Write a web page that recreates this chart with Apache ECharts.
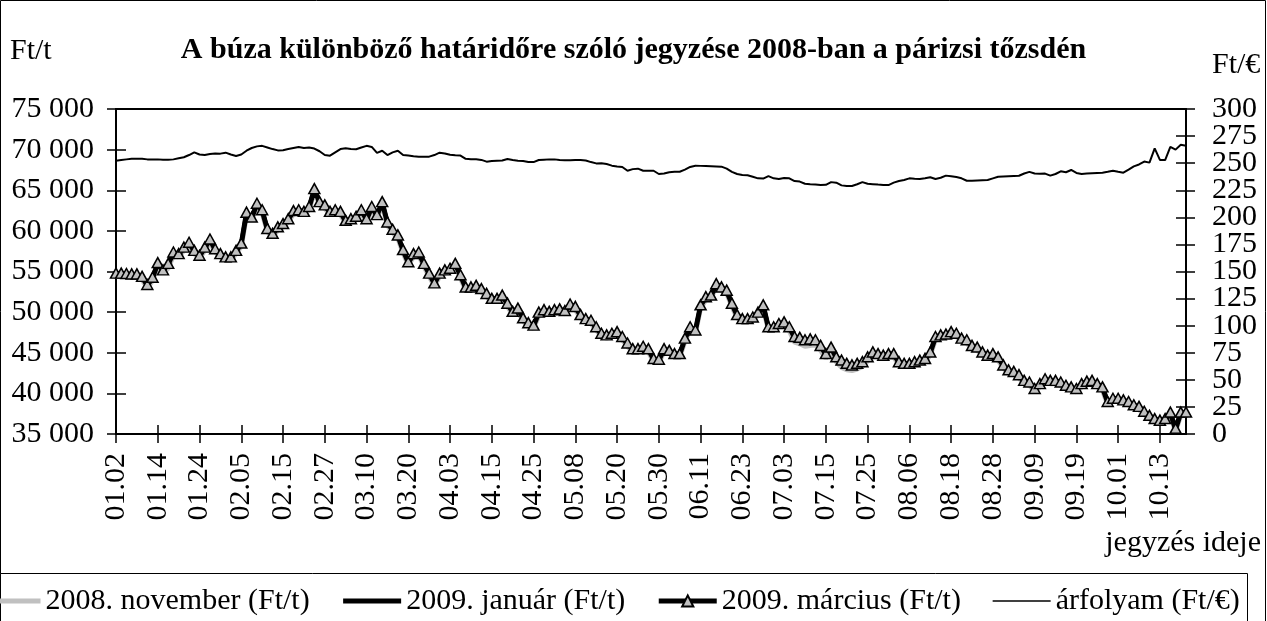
<!DOCTYPE html>
<html>
<head>
<meta charset="utf-8">
<script src="https://cdn.jsdelivr.net/npm/echarts@6/dist/echarts.min.js"></script>
<style>
html, body { margin: 0; padding: 0; background: #fff; }
#chart { width: 1267px; height: 621px; }
</style>
</head>
<body>
<div id="chart"></div>
<script>
// kereskedési napok (hó.nap)
var dates = [
  '01.02','01.03','01.04','01.07','01.08','01.09','01.10','01.11','01.14','01.15','01.16','01.17','01.18','01.21','01.22','01.23','01.24','01.25','01.28','01.29','01.30','01.31',
  '02.01','02.04','02.05','02.06','02.07','02.08','02.11','02.12','02.13','02.14','02.15','02.18','02.19','02.20','02.21','02.22','02.25','02.26','02.27','02.28','02.29',
  '03.03','03.04','03.05','03.06','03.07','03.10','03.11','03.12','03.13','03.14','03.17','03.18','03.19','03.20','03.25','03.26','03.27','03.28','03.31',
  '04.01','04.02','04.03','04.04','04.07','04.08','04.09','04.10','04.11','04.14','04.15','04.16','04.17','04.18','04.21','04.22','04.23','04.24','04.25','04.28','04.29','04.30',
  '05.02','05.05','05.06','05.07','05.08','05.09','05.12','05.13','05.14','05.15','05.16','05.19','05.20','05.21','05.22','05.23','05.26','05.27','05.28','05.29','05.30',
  '06.02','06.03','06.04','06.05','06.06','06.09','06.10','06.11','06.12','06.13','06.16','06.17','06.18','06.19','06.20','06.23','06.24','06.25','06.26','06.27','06.30',
  '07.01','07.02','07.03','07.04','07.07','07.08','07.09','07.10','07.11','07.14','07.15','07.16','07.17','07.18','07.21','07.22','07.23','07.24','07.25','07.28','07.29','07.30','07.31',
  '08.01','08.04','08.05','08.06','08.07','08.08','08.11','08.12','08.13','08.14','08.15','08.18','08.19','08.20','08.21','08.22','08.25','08.26','08.27','08.28','08.29',
  '09.01','09.02','09.03','09.04','09.05','09.08','09.09','09.10','09.11','09.12','09.15','09.16','09.17','09.18','09.19','09.22','09.23','09.24','09.25','09.26','09.29','09.30',
  '10.01','10.02','10.03','10.06','10.07','10.08','10.09','10.10','10.13','10.14','10.15','10.16','10.17','10.20'
];

// 2008. november (Ft/t)
var nov08 = [
  54400,54400,54350,54300,54300,54000,53000,53900,55600,54800,
  55400,57000,56800,57600,58200,57200,56600,57600,58600,57400,
  56800,56400,56400,57200,58100,61900,61300,63000,62200,59900,
  59300,60100,60500,61100,62100,62200,62000,62600,64800,63200,
  62800,62000,62200,62000,60900,61100,61400,62200,61100,62600,
  61600,63200,60700,59800,59100,57300,55800,56800,57000,55600,
  54400,53200,54400,54800,55000,55600,54200,52700,52700,52900,
  52500,51900,51300,51300,51700,50700,49700,50100,48900,48300,
  48000,49600,49900,49700,49900,50000,49800,50600,50300,49300,
  48800,48600,47800,47000,46800,47000,47200,46600,45800,45100,
  45100,45400,45100,43900,43800,45100,44900,44500,44500,46400,
  47800,47400,50500,51500,51700,53100,52700,52300,50700,49300,
  48800,48800,49000,49600,50500,47800,47800,48200,48400,47700,
  46300,46100,45800,45900,46000,45300,44300,45100,43900,43200,
  42900,42800,43000,43300,44000,44700,44500,44300,44500,44500,
  43500,43300,43300,43500,43700,43900,44700,46600,46800,46900,
  47200,47000,46400,46200,45500,45300,44700,44300,44500,44100,
  43100,42500,42300,41900,41200,41000,40200,40800,41400,41200,
  41200,41000,40600,40400,40200,40800,41100,41200,40800,40400,
  38600,39000,39000,38800,38600,38200,38000,37400,36900,36500,
  36300,36500,37300,35300,37300,37300
];

// 2009. január (Ft/t)
var jan09 = [
  54700,54700,54650,54600,54600,54300,53300,54200,56000,55100,
  55900,57300,57100,57900,58500,57500,56900,57900,58900,57700,
  57100,56700,56700,57500,58400,62200,61600,63300,62500,60200,
  59600,60400,60800,61400,62400,62500,62300,62900,65100,63500,
  63100,62300,62500,62300,61200,61400,61700,62500,61400,62900,
  61900,63500,61000,60100,59400,57600,56100,57100,57300,55900,
  54700,53500,54700,55100,55300,55900,54500,53000,53000,53200,
  52800,52200,51600,51600,52000,51000,50000,50400,49200,48600,
  48300,49900,50200,50000,50200,50300,50100,50900,50600,49600,
  49100,48900,48100,47300,47100,47300,47500,46900,46100,45400,
  45400,45700,45400,44200,44100,45400,45200,44800,44800,46700,
  48100,47700,50800,51800,52000,53400,53000,52600,51000,49600,
  49100,49100,49300,49900,50800,48100,48100,48500,48700,48100,
  46900,46800,46500,46600,46500,45800,44800,45600,44400,44000,
  43600,43400,43600,43800,44400,45000,44800,44600,44800,44800,
  43800,43600,43600,43800,44000,44200,45000,46900,47100,47200,
  47500,47300,46700,46500,45800,45600,45000,44600,44800,44400,
  43400,42800,42600,42200,41500,41300,40500,41100,41700,41500,
  41500,41300,40900,40700,40500,41100,41400,41500,41100,40700,
  38900,39300,39300,39100,38900,38500,38300,37700,37200,36800,
  36600,36800,37600,35600,37600,37600
];

// 2009. március (Ft/t)
var mar09 = [
  54800,54800,54750,54700,54700,54400,53400,54300,56100,55200,
  56000,57400,57200,58000,58600,57600,57000,58000,59000,57800,
  57200,56800,56800,57600,58500,62300,61700,63400,62600,60300,
  59700,60500,60900,61500,62500,62600,62400,63000,65200,63600,
  63200,62400,62600,62400,61300,61500,61800,62600,61500,63000,
  62000,63600,61100,60200,59500,57700,56200,57200,57400,56000,
  54800,53600,54800,55200,55400,56000,54600,53100,53100,53300,
  52900,52300,51700,51700,52100,51100,50100,50500,49300,48700,
  48400,50000,50300,50100,50300,50400,50200,51000,50700,49700,
  49200,49000,48200,47400,47200,47400,47600,47000,46200,45500,
  45500,45800,45500,44300,44200,45500,45300,44900,44900,46800,
  48200,47800,50900,51900,52100,53500,53100,52700,51100,49700,
  49200,49200,49400,50000,50900,48200,48200,48600,48800,48200,
  47000,46900,46600,46700,46600,45900,44900,45700,44500,44100,
  43700,43500,43700,43900,44500,45100,44900,44700,44900,44900,
  43900,43700,43700,43900,44100,44300,45100,47000,47200,47300,
  47600,47400,46800,46600,45900,45700,45100,44700,44900,44500,
  43500,42900,42700,42300,41600,41400,40600,41200,41800,41600,
  41600,41400,41000,40800,40600,41200,41500,41600,41200,40800,
  39000,39400,39400,39200,39000,38600,38400,37800,37300,36900,
  36700,36900,37700,35700,37700,37700
];

// árfolyam (Ft/€)
var eurHuf = [
  252.3,253,253.5,254,254,254,253.5,253.5,253.5,253.2,
  253.2,253.5,254.5,255.5,257.5,260,258,257.5,258.5,259,
  258.8,259.7,258,256.6,258,261.5,264,265.5,266,264.5,
  263,261.8,262,263,264,265,264,264.5,263.5,261,
  257.5,256.9,260,263,263.7,263,262.8,264.5,266,265,
  259.5,261.5,257.5,260,261.5,257.5,257,256.3,256,256,
  256,257.5,259.7,259,257.8,257.2,257,254,253.6,253.6,
  253,251.4,252,252.3,252.5,253.8,253,252.3,252,251,
  251,252.9,253.2,253.5,253.5,253,252.6,252.8,253,252.9,
  252.5,251,249.8,250,249.2,247.7,247,246.5,243,244.5,
  244.9,243,243,243,240,240.5,241.6,242,242.1,244,
  246.5,247.7,247.5,247.4,247.2,247,246.8,245,242,240,
  239,238.8,237.5,236,235.8,238,236,235.4,236.3,236,
  233.5,233,231,230.5,230.2,229.8,230,232.5,232,229.5,
  228.9,228.9,230.5,232.5,231,230.6,230.2,229.9,229.8,232,
  233.5,234.5,236,235.6,235.4,236,237,235.4,236.5,238.5,
  238,237.2,236,233.8,233.7,234,234.3,234.5,236,237.5,
  237.8,238,238.2,238.4,240.5,242,240.5,240.3,240.4,238.5,
  240,242.5,241.6,243.7,241,240,240.4,240.7,241,241.2,
  242,243,242,241.2,244,247,248.8,251.5,250.5,263.7,
  253,252.9,265,262.5,267,266
];

var seriesNames = ['2008. november (Ft/t)', '2009. január (Ft/t)', '2009. március (Ft/t)', 'árfolyam (Ft/€)'];
var titleText = 'A búza különböző határidőre szóló jegyzése 2008-ban a párizsi tőzsdén';

var font = 'Liberation Serif';
var myChart = echarts.init(document.getElementById('chart'));

// ezres tagolás szóközzel
function fmt(v) {
    return String(v).replace(/\B(?=(\d{3})+(?!\d))/g, ' ');
}
// a jobb tengely két végén lévő feliratot külön tengely írja ki,
// így az ECharts nem rejti el a szomszédjukat
function rightEnds(v) {
    return (v === 0 || v === 300) ? String(v) : '';
}
function rightInner(v) {
    return (v === 0 || v === 300) ? '' : String(v);
}

var axisBlack = { color: '#000', width: 2 };
var tickBlack = { color: '#000', width: 1.5 };
var rightLabel = { fontSize: 30, margin: 26, fontFamily: font, color: '#000' };

var option = {
    animation: false,
    backgroundColor: '#fff',
    textStyle: { fontFamily: font, color: '#000' },
    title: {
        text: titleText,
        left: 'center',
        top: 30,
        textStyle: { fontFamily: font, fontSize: 30, fontWeight: 'bold', color: '#000' }
    },
    grid: {
        left: 116, right: 81, top: 109, bottom: 187,
        show: true, borderColor: '#000', borderWidth: 2, backgroundColor: 'transparent'
    },
    legend: {
        left: -20,
        top: 586,
        padding: 0,
        itemWidth: 58,
        itemHeight: 14,
        itemGap: 31,
        textStyle: { fontFamily: font, fontSize: 30, color: '#000' },
        // szimbólum nélküli vonalaknál a jelölőt elrejtjük
        data: [
            { name: seriesNames[0], itemStyle: { opacity: 0 }, lineStyle: { width: 5, color: '#c0c0c0' } },
            { name: seriesNames[1], itemStyle: { opacity: 0 }, lineStyle: { width: 5, color: '#000' } },
            { name: seriesNames[2], lineStyle: { width: 5, color: '#000' } },
            { name: seriesNames[3], itemStyle: { opacity: 0 }, lineStyle: { width: 1.5, color: '#000' } }
        ]
    },
    xAxis: [{
        type: 'category',
        data: dates,
        boundaryGap: false,
        axisLine: { lineStyle: axisBlack },
        axisTick: { interval: 7, length: 9, lineStyle: tickBlack },
        axisLabel: { interval: 7, rotate: 90, margin: 19, fontSize: 30, fontFamily: font, color: '#000' },
        splitLine: { show: false }
    }, {
        // befelé mutató osztásjelek
        type: 'category',
        data: dates,
        boundaryGap: false,
        position: 'bottom',
        axisLine: { show: false },
        axisTick: { inside: true, interval: 7, length: 9, lineStyle: tickBlack },
        axisLabel: { show: false },
        splitLine: { show: false }
    }],
    yAxis: [{
        type: 'value',
        min: 35000, max: 75000, interval: 5000,
        position: 'left',
        axisLine: { show: true, lineStyle: axisBlack },
        axisTick: { show: true, length: 9, lineStyle: tickBlack },
        axisLabel: { formatter: fmt, fontSize: 30, margin: 22, fontFamily: font, color: '#000', showMinLabel: true, showMaxLabel: true },
        splitLine: { show: false }
    }, {
        type: 'value',
        min: 35000, max: 75000, interval: 5000,
        position: 'left',
        axisLine: { show: false },
        axisTick: { show: true, inside: true, length: 10, lineStyle: tickBlack },
        axisLabel: { show: false },
        splitLine: { show: false }
    }, {
        type: 'value',
        min: 0, max: 300, interval: 25,
        position: 'right',
        axisLine: { show: true, lineStyle: axisBlack },
        axisTick: { show: true, length: 9, lineStyle: tickBlack },
        axisLabel: echarts.util.extend({ formatter: rightEnds, showMinLabel: true, showMaxLabel: true }, rightLabel),
        splitLine: { show: false }
    }, {
        type: 'value',
        min: 0, max: 300, interval: 25,
        position: 'right',
        axisLine: { show: false },
        axisTick: { show: true, inside: true, length: 10, lineStyle: tickBlack },
        axisLabel: echarts.util.extend({ formatter: rightInner, showMinLabel: true, showMaxLabel: true }, rightLabel),
        splitLine: { show: false }
    }],
    series: [{
        name: seriesNames[0],
        type: 'line',
        data: nov08,
        yAxisIndex: 0,
        symbol: 'none',
        lineStyle: { color: '#c0c0c0', width: 5 },
        itemStyle: { color: '#c0c0c0' }
    }, {
        name: seriesNames[1],
        type: 'line',
        data: jan09,
        yAxisIndex: 0,
        symbol: 'none',
        lineStyle: { color: '#000', width: 5 },
        itemStyle: { color: '#000' }
    }, {
        name: seriesNames[2],
        type: 'line',
        data: mar09,
        yAxisIndex: 0,
        symbol: 'triangle',
        symbolSize: [11, 10],
        showAllSymbol: true,
        lineStyle: { color: '#000', width: 4 },
        itemStyle: { color: '#c0c0c0', borderColor: '#000', borderWidth: 1.5 }
    }, {
        name: seriesNames[3],
        type: 'line',
        data: eurHuf,
        yAxisIndex: 2,
        symbol: 'none',
        lineStyle: { color: '#000', width: 2 },
        itemStyle: { color: '#000' }
    }],
    graphic: [{
        type: 'rect', silent: true, z: -1,
        shape: { x: 0.5, y: 0.5, width: 1265, height: 640 },
        style: { fill: 'none', stroke: '#000', lineWidth: 1 }
    }, {
        type: 'rect', silent: true, z: -1,
        shape: { x: 0.5, y: 573.5, width: 1247, height: 60 },
        style: { fill: '#fff', stroke: '#000', lineWidth: 1 }
    }, {
        type: 'text', left: 10, top: 36,
        style: { text: 'Ft/t', fontFamily: font, fontSize: 30, fill: '#000' }
    }, {
        type: 'text', left: 1212, top: 50,
        style: { text: 'Ft/€', fontFamily: font, fontSize: 30, fill: '#000' }
    }, {
        type: 'text', right: 6, top: 528,
        style: { text: 'jegyzés ideje', fontFamily: font, fontSize: 30, fill: '#000' }
    }]
};

myChart.setOption(option);
window.onresize = myChart.resize;
</script>
</body>
</html>
